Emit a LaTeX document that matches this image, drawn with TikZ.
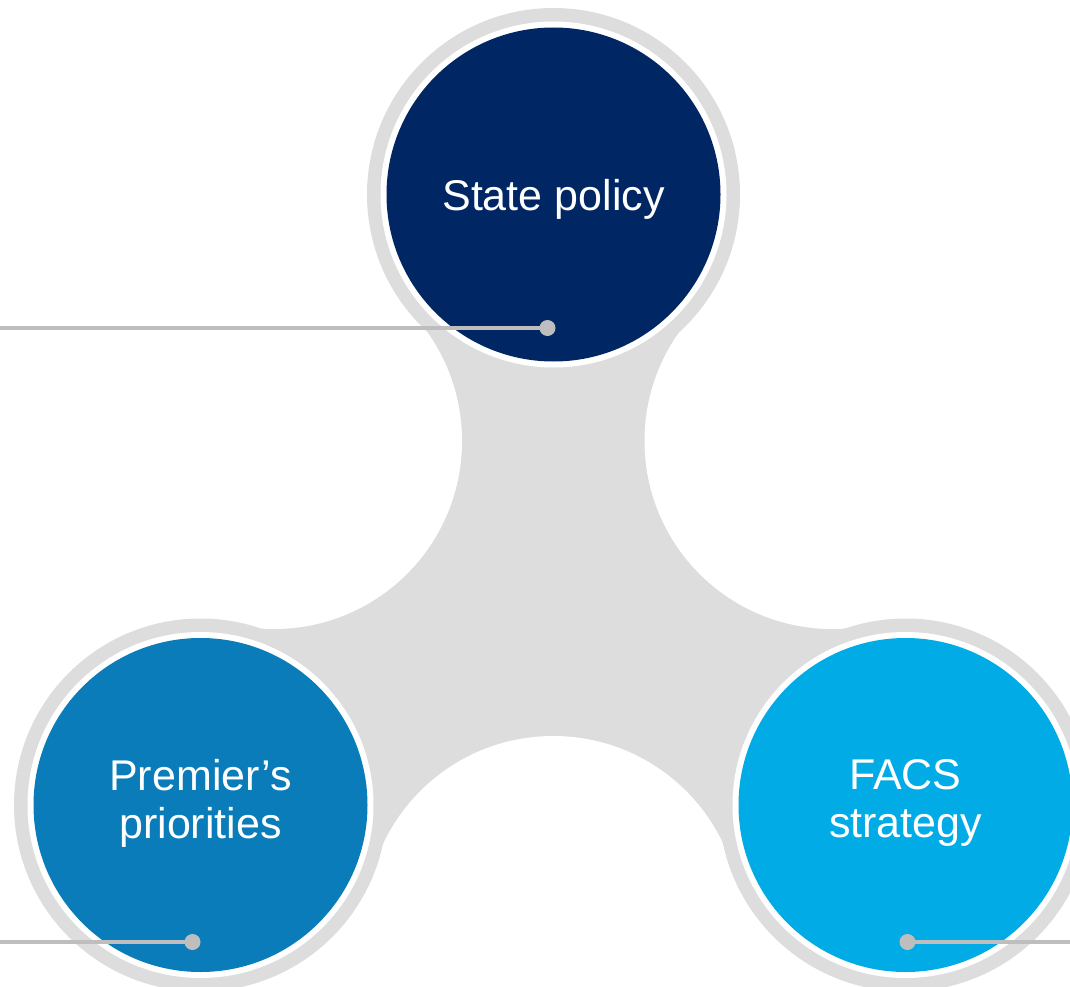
\documentclass[tikz,border=0pt]{standalone}
\usepackage{fontspec}
\setmainfont{Liberation Sans}
\definecolor{navy}{HTML}{002664}
\definecolor{midblue}{HTML}{0A7CB9}
\definecolor{lightblue}{HTML}{00ABE6}
\definecolor{spingrey}{HTML}{DDDDDD}
\definecolor{conngrey}{HTML}{BEBEBE}
\tikzset{
  bubble/.style={circle, inner sep=0pt, minimum size=334pt},
  label/.style={text=white, align=center, inner sep=0pt,
                font=\fontsize{43}{48}\selectfont},
  dotmark/.style={circle, fill=conngrey, inner sep=0pt, minimum size=16pt},
  conn/.style={draw=conngrey, line width=3.5pt},
}
\begin{document}
\begin{tikzpicture}[x=1pt,y=-1pt]
\useasboundingbox (0,0) rectangle (1070,987);
% centres
\coordinate (cT) at (553.5,194.5);
\coordinate (cL) at (200.5,805);
\coordinate (cR) at (905.5,805);
\coordinate (kL) at (274,441);
\coordinate (kR) at (832.5,441);
\coordinate (kB) at (553.2,924);
% spinner body
\fill[spingrey] (cT) -- (kL) -- (cL) -- (kB) -- (cR) -- (kR) -- cycle;
\foreach \k in {kL,kR,kB} \fill[white] (\k) circle (188pt);
\foreach \c in {cT,cL,cR} {
  \fill[spingrey] (\c) circle (186.5pt);
  \fill[white] (\c) circle (173pt);
}
% bubbles
\node[bubble, fill=navy] (sp) at (cT) {};
\node[bubble, fill=midblue] (pp) at (cL) {};
\node[bubble, fill=lightblue] (fs) at (cR) {};
\node[label, yshift=-5pt] (tsp) at (sp.center) {State policy};
\node[label, yshift=2pt] (tpp) at (pp.center) {Premier’s\\priorities};
\node[label, yshift=2pt] (tfs) at (fs.center) {FACS\\strategy};
% connectors
\coordinate (e1) at (0,328);
\coordinate (e2) at (0,942);
\coordinate (e3) at (1070,942);
\coordinate (p1) at (547.5,328);
\coordinate (p2) at (192.5,942);
\coordinate (p3) at (907.5,942);
\draw[conn] (e1) -- (p1);
\draw[conn] (e2) -- (p2);
\draw[conn] (p3) -- (e3);
\node[dotmark] (d1) at (p1) {};
\node[dotmark] (d2) at (p2) {};
\node[dotmark] (d3) at (p3) {};
\end{tikzpicture}
\end{document}
